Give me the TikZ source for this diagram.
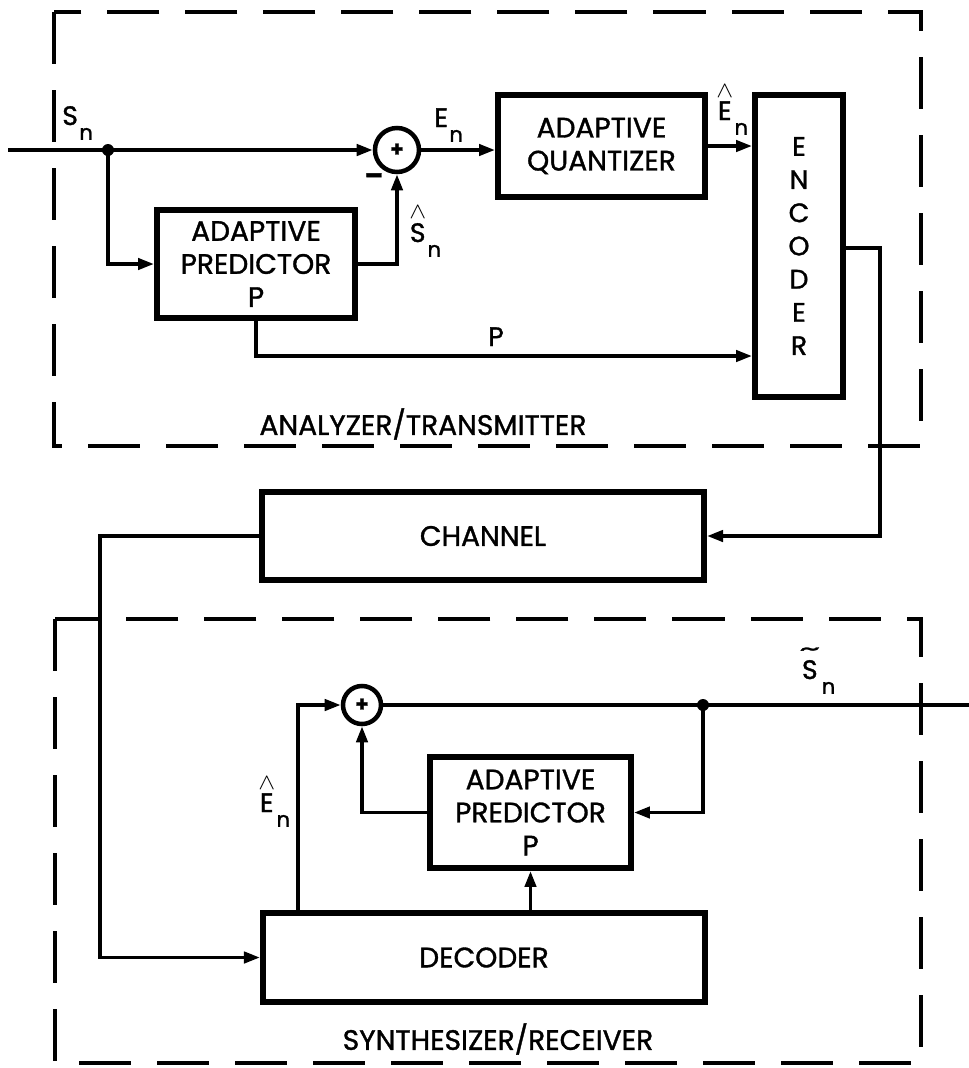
\documentclass[tikz,border=0pt]{standalone}
\usepackage{fontspec}
\usepackage{graphicx}
\setmainfont{Poppins}[FakeBold=1.2]
\usetikzlibrary{arrows.meta}
\newcommand\boxfont{\fontsize{20}{23.5}\selectfont}
\newcommand\encfont{\fontsize{19}{23.6}\selectfont}
\newcommand\lblfont{\fontsize{19}{20}\selectfont}
\newcommand\plusfont{\fontsize{15}{15}\selectfont\bfseries}
\newcommand\subn[1]{#1\kern1pt\raisebox{-10.5pt}{\fontsize{15}{15}\selectfont n}}
\newcommand\acc[2]{\vbox{\offinterlineskip\halign{\hfil##\hfil\cr#1\cr\noalign{\kern3pt}#2\cr}}}
\newcommand\hatmark{\resizebox{12pt}{9pt}{$\wedge$}}
\newcommand\tildemark{\resizebox{15pt}{6pt}{\textasciitilde}}
\begin{document}
\begin{tikzpicture}[x=0.025cm,y=-0.025cm,
  box/.style={draw,line width=4.2pt,rectangle,inner sep=0pt,align=center,font=\boxfont},
  sumnode/.style={draw,circle,line width=3.2pt,inner sep=0pt},
  wire/.style={line width=2.6pt},
  arr/.style={wire,-{Triangle[length=0.4cm,width=0.28cm]}},
  dashbox/.style={line width=3pt,dash pattern=on 1.3cm off 0.65cm},
  lbl/.style={inner sep=0pt,anchor=base west,font=\lblfont},
  dot/.style={circle,fill,inner sep=0pt,minimum size=0.3cm}]
\fill[white] (0,0) rectangle (969,1068);
\useasboundingbox (0,0) rectangle (969,1068);
% dashed enclosures
\draw[dashbox] (54,12) rectangle (921,446);
\draw[dashbox] (55,619) rectangle (921,1063);
% blocks
\node[box,minimum width=4.95cm,minimum height=2.7cm] (pred1) at (256,264) {ADAPTIVE\\PREDICTOR\\P};
\node[sumnode,minimum size=1.1cm] (sum1) at (397,150) {\plusfont +};
\node[box,minimum width=5.175cm,minimum height=2.55cm] (quant) at (601.5,146) {ADAPTIVE\\QUANTIZER};
\node[box,font=\encfont,minimum width=2.2cm,minimum height=7.55cm] (enc) at (799,246) {E\\N\\C\\O\\D\\E\\R};
\node[box,minimum width=11.05cm,minimum height=2.2cm] (chan) at (483,536) {CHANNEL};
\node[box,minimum width=11.05cm,minimum height=2.225cm] (dec) at (484,957.5) {DECODER};
\node[box,minimum width=5.025cm,minimum height=2.775cm] (pred2) at (530.5,812.5) {ADAPTIVE\\PREDICTOR\\P};
\node[sumnode,minimum size=0.95cm] (sum2) at (362,705) {\plusfont +};
% coordinates
\coordinate (in) at (8,150);
\coordinate (d1) at (108,150);
\coordinate (pl) at (256,356);
\coordinate (eo) at (880,248);
\coordinate (co) at (100,538);
\coordinate (eh) at (298,913);
\coordinate (d2) at (703,705);
\coordinate (out) at (969,705);
% connectors
\draw[arr] (in) -- (sum1.west);
\draw[arr] (d1) |- (pred1.west);
\draw[arr] (pred1.east) -| (sum1.south);
\draw[arr] (sum1.east) -- (sum1.east -| quant.west);
\draw[arr] (quant.east) -- (quant.east -| enc.west);
\draw[arr] (pred1.south) -- (pl) -- (pl -| enc.west);
\draw[arr] (eo -| enc.east) -- (eo) |- (chan.east);
\draw[arr] (chan.west) -- (chan.west -| co) |- (dec.west);
\draw[arr] (eh |- dec.north) |- (sum2.west);
\draw[wire] (sum2.east) -- (out);
\draw[arr] (d2) |- (pred2.east);
\draw[arr] (pred2.west) -| (sum2.south);
\draw[arr] (pred2.south |- dec.north) -- (pred2.south);
\node[dot] at (d1) {};
\node[dot] at (d2) {};
% labels
\node[lbl] (sn) at (62,125) {\subn{S}};
\node[lbl] (en) at (434,127) {\subn{E}};
\node[lbl] (shat) at (409,242) {\subn{\acc{\hatmark}{S}}};
\node[lbl] (ehat1) at (716,120) {\subn{\acc{\hatmark}{E}}};
\node[lbl] (plab) at (488,346) {P};
\node[lbl] (ehat2) at (258,812) {\subn{\acc{\hatmark}{E}}};
\node[lbl] (stil) at (799,679) {\subn{\acc{\tildemark}{S}}};
\node[font=\lblfont\bfseries,inner sep=0pt] (minus) at (374,179) {–};
\node[font=\boxfont] (atlab) at (423,424) {ANALYZER/TRANSMITTER};
\node[font=\boxfont] (srlab) at (498,1039) {SYNTHESIZER/RECEIVER};
\end{tikzpicture}
\end{document}
